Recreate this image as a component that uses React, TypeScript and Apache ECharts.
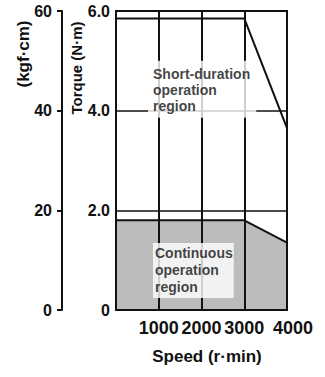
import React, { useEffect, useRef } from "react";
import * as echarts from "echarts";

// Motor torque vs speed: short-duration and continuous operating envelopes
const speeds = [0, 3000, 4000];
const shortDurationTorque = [5.85, 5.85, 3.65];
const continuousTorque = [1.8, 1.8, 1.35];

const shortLabel = ["Short-duration", "operation", "region"];
const continuousLabel = ["Continuous", "operation", "region"];
// anchor (speed, torque) of each region caption's top-left corner
const shortLabelAt = [749, 5.0];
const continuousLabelAt = [865, 1.345];

export default function App() {
  const ref = useRef<HTMLDivElement>(null);

  useEffect(() => {
    const chart = echarts.init(ref.current!, null, { renderer: "svg" });
    const font = "'Liberation Sans', Arial, Helvetica, sans-serif";
    const ink = "#111";
    const bold = { color: ink, fontWeight: "bold" as const, fontFamily: font };

    const caption = (
      lines: string[],
      at: number[],
      lineHeight: number,
      padding: number[]
    ) => ({
      type: "scatter",
      z: 10,
      silent: true,
      symbolSize: 0,
      data: [at],
      label: {
        show: true,
        position: [0, 0],
        align: "left",
        verticalAlign: "top",
        formatter: lines.join("\n"),
        backgroundColor: "#fff",
        padding,
        lineHeight,
        fontSize: 14,
        ...bold,
      },
    });

    chart.setOption({
      animation: false,
      backgroundColor: "#fff",
      textStyle: { fontFamily: font },
      grid: {
        left: 116,
        top: 11,
        right: 38,
        bottom: 67,
        show: true,
        borderColor: ink,
        borderWidth: 2,
        backgroundColor: "transparent",
      },
      xAxis: {
        type: "value",
        min: 0,
        max: 4000,
        interval: 1000,
        z: 3,
        axisLine: { show: true, lineStyle: { color: ink, width: 2 } },
        axisTick: { show: false },
        axisLabel: {
          formatter: (v: number) =>
            v === 0 ? "" : v === 4000 ? `{far|${v}}` : String(v),
          fontSize: 18,
          margin: 9,
          ...bold,
          rich: {
            far: { fontSize: 18, padding: [0, 0, 0, 12], ...bold },
          },
        },
        splitLine: { show: true, lineStyle: { color: ink, width: 2 } },
        name: "Speed (r·min)",
        nameLocation: "middle",
        nameGap: 38,
        nameTextStyle: { fontSize: 17, padding: [0, 0, 0, 11], ...bold },
      },
      yAxis: [
        {
          type: "value",
          min: 0,
          max: 6,
          interval: 2,
          position: "left",
          z: 3,
          axisLine: { show: true, lineStyle: { color: ink, width: 2 } },
          axisTick: { show: false },
          axisLabel: {
            formatter: (v: number) => (v === 0 ? "0" : v.toFixed(1)),
            fontSize: 16,
            margin: 6,
            ...bold,
          },
          splitLine: { show: true, lineStyle: { color: ink, width: 1.6 } },
        },
        {
          type: "value",
          min: 0,
          max: 60,
          interval: 20,
          position: "left",
          offset: 54,
          axisLine: { show: true, lineStyle: { color: ink, width: 2 } },
          axisTick: { show: true, length: 5, lineStyle: { color: ink, width: 2 } },
          axisLabel: { fontSize: 16, margin: 10, ...bold },
          splitLine: { show: false },
        },
      ],
      series: [
        {
          type: "line",
          z: 2,
          symbol: "none",
          data: speeds.map((s, i) => [s, continuousTorque[i]]),
          lineStyle: { color: ink, width: 2 },
          areaStyle: { color: "#bcbcbc", opacity: 1 },
        },
        {
          type: "line",
          z: 4,
          symbol: "none",
          data: speeds.map((s, i) => [s, shortDurationTorque[i]]),
          lineStyle: { color: ink, width: 2 },
        },
        caption(shortLabel, shortLabelAt, 16, [5, 6, 4, 5]),
        caption(continuousLabel, continuousLabelAt, 17, [2, 1, 2, 2]),
      ],
      graphic: [
        {
          type: "text",
          x: 23,
          y: 54,
          rotation: Math.PI / 2,
          style: {
            text: "(kgf·cm)",
            fill: ink,
            font: `bold 17px ${font}`,
            align: "center",
            verticalAlign: "middle",
          },
        },
        {
          type: "text",
          x: 76,
          y: 68,
          rotation: Math.PI / 2,
          style: {
            text: "Torque (N·m)",
            fill: ink,
            font: `bold 15px ${font}`,
            align: "center",
            verticalAlign: "middle",
          },
        },
      ],
    });

    return () => chart.dispose();
  }, []);

  return (
    <div
      ref={ref}
      style={{ position: "fixed", left: 0, top: 0, width: 325, height: 377 }}
    />
  );
}
